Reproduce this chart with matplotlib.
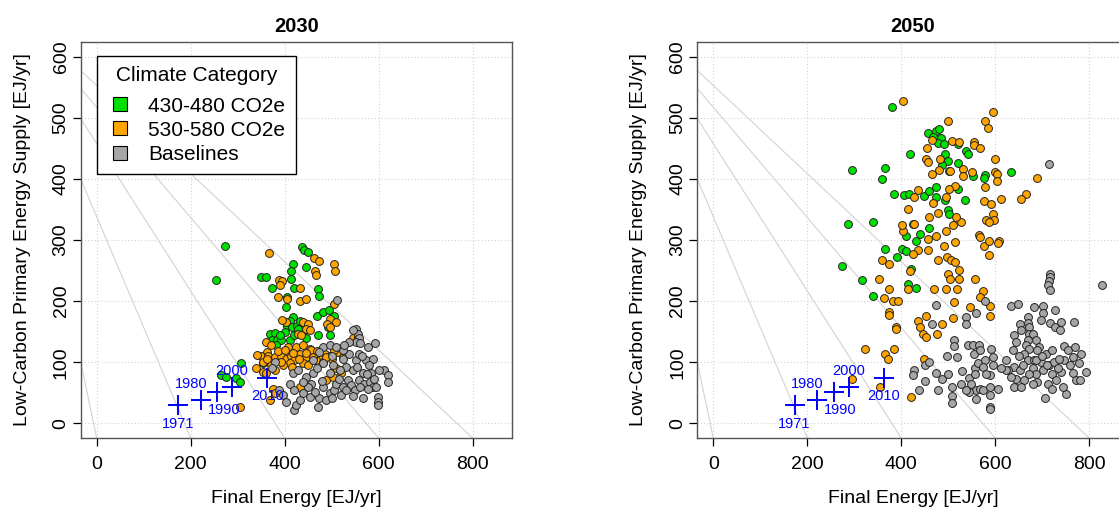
import matplotlib
matplotlib.use('Agg')
import matplotlib.pyplot as plt
from matplotlib.lines import Line2D

plt.rcParams['font.family'] = ['Liberation Sans', 'DejaVu Sans']

# --- 2030 panel: (final energy, low-carbon primary energy) in EJ/yr
g30_x = [274, 255, 437, 442, 449, 418, 414, 445, 350, 360, 413, 374, 421, 472, 474, 405, 404,
         469, 481, 494, 506, 418, 411, 405, 416, 426, 433, 439, 368, 379, 374, 384, 393, 382,
         472, 496, 492, 411, 446, 308, 264, 276, 297, 304, 354, 420, 428, 400, 390]
g30_y = [290, 234, 288, 284, 280, 261, 250, 256, 240, 240, 237, 221, 222, 220, 208, 206, 190,
         176, 182, 186, 176, 174, 168, 160, 158, 160, 168, 152, 147, 148, 136, 137, 137, 128,
         144, 144, 158, 136, 139, 98, 79, 76, 75, 68, 98, 145, 155, 150, 145]
o30_x = [366, 462, 473, 506, 508, 464, 467, 389, 395, 391, 433, 387, 405, 432, 445, 505, 404,
         395, 439, 450, 445, 428, 435, 453, 496, 510, 490, 497, 361, 372, 363, 425, 439, 453,
         350, 365, 379, 393, 404, 414, 421, 432, 446, 474, 485, 496, 513, 411, 439, 396, 340,
         354, 361, 375, 379, 368, 304, 433, 510, 520, 545, 556, 489, 503, 467, 457, 407, 481, 524,
         355, 370, 385, 400, 418, 445, 460, 470, 500, 505, 380, 415, 362, 430, 488, 450, 342, 392]
o30_y = [279, 271, 265, 261, 250, 250, 243, 235, 233, 227, 221, 207, 204, 201, 203, 195, 166,
         169, 166, 163, 155, 147, 144, 152, 171, 166, 162, 158, 133, 128, 117, 125, 128, 122,
         111, 110, 109, 111, 106, 111, 103, 114, 109, 111, 114, 111, 117, 98, 98, 95, 90,
         84, 82, 57, 49, 38, 27, 60, 90, 82, 139, 141, 71, 76, 103, 120, 125, 101, 109,
         100, 95, 118, 120, 115, 115, 108, 118, 105, 120, 88, 92, 105, 106, 108, 95, 112, 100]
b30_x = [511, 552, 556, 559, 552, 561, 593, 577, 481, 474, 496, 598, 598, 598, 612, 620, 620,
         421, 425, 432, 471, 389, 397, 404, 379, 374, 418, 428, 446, 457, 460, 481, 474, 489,
         496, 506, 510, 520, 524, 535, 542, 549, 559, 570, 581, 588, 584, 573, 588, 552, 531,
         524, 538, 524, 460, 481, 503, 517, 545, 439, 453, 496, 411, 566, 538, 545, 527, 510,
         559, 577, 595, 566, 450, 465, 480, 500, 515, 530, 545, 555, 565, 580, 500, 470, 440,
         420, 560, 590, 600, 575]
b30_y = [202, 155, 147, 139, 133, 131, 131, 125, 125, 117, 128, 43, 35, 30, 87, 79, 68,
         22, 30, 38, 27, 54, 46, 35, 100, 90, 82, 87, 76, 65, 82, 60, 41, 38,
         49, 54, 65, 46, 60, 71, 63, 54, 71, 65, 68, 60, 82, 103, 106, 103, 92,
         106, 114, 120, 103, 98, 95, 87, 87, 49, 43, 82, 65, 82, 133, 152, 128, 125,
         114, 57, 60, 41, 60, 52, 70, 42, 72, 55, 45, 92, 110, 95, 110, 90, 68,
         55, 60, 72, 88, 80]

# --- 2050 panel
g50_x = [380, 457, 473, 480, 467, 485, 478, 492, 520, 537, 542, 418, 494, 499, 487, 520, 501,
         296, 365, 360, 552, 579, 577, 634, 385, 407, 416, 448, 459, 474, 473, 494, 520, 535,
         499, 501, 287, 339, 425, 411, 431, 441, 459, 365, 401, 411, 390, 273, 317, 341, 420,
         414, 431]
g50_y = [518, 475, 478, 481, 468, 467, 458, 457, 457, 446, 440, 440, 440, 430, 422, 426, 413,
         414, 418, 400, 404, 407, 401, 411, 375, 374, 375, 372, 380, 387, 370, 365, 384, 365,
         349, 343, 326, 330, 327, 307, 299, 310, 320, 286, 286, 282, 272, 257, 235, 208, 253,
         228, 222]
o50_x = [404, 596, 499, 579, 585, 465, 508, 523, 556, 554, 568, 455, 453, 458, 483, 480, 465,
         504, 531, 550, 531, 600, 599, 603, 604, 689, 666, 656, 436, 428, 467, 496, 515, 502,
         577, 591, 613, 579, 414, 460, 479, 496, 511, 528, 516, 595, 581, 598, 586, 404, 402,
         427, 457, 474, 492, 514, 565, 568, 577, 586, 609, 607, 586, 360, 374, 353, 375, 363,
         383, 394, 374, 375, 388, 388, 324, 365, 372, 384, 354, 295, 421, 435, 458, 478, 497,
         506, 514, 523, 499, 503, 523, 557, 470, 496, 519, 574, 567, 513, 547, 590, 590, 510,
         487, 453, 436, 441, 446, 453, 476, 448, 425, 418, 414]
o50_y = [528, 510, 494, 494, 483, 463, 462, 460, 461, 456, 450, 450, 432, 427, 433, 414, 408,
         413, 416, 412, 405, 432, 411, 408, 397, 401, 375, 367, 382, 371, 360, 370, 389, 383,
         364, 359, 367, 386, 351, 337, 345, 315, 325, 329, 338, 343, 333, 332, 329, 315, 324,
         326, 302, 307, 291, 296, 308, 305, 291, 299, 299, 295, 276, 267, 261, 237, 220, 205,
         201, 201, 182, 177, 158, 154, 122, 113, 106, 121, 60, 72, 43, 284, 284, 268, 272,
         267, 264, 251, 245, 237, 237, 236, 220, 220, 220, 216, 207, 199, 190, 192, 176, 172,
         162, 175, 168, 158, 147, 141, 147, 106, 277, 249, 220]
b50_x = [715, 828, 717, 717, 715, 712, 717, 579, 634, 648, 683, 701, 727, 474, 538, 538, 559,
         465, 513, 513, 498, 518, 543, 552, 565, 592, 669, 669, 671, 673, 669, 666, 673, 662,
         669, 701, 697, 717, 728, 738, 740, 768, 641, 644, 637, 623, 641, 627, 644, 662, 680,
         687, 701, 715, 726, 697, 712, 705, 722, 740, 751, 765, 772, 780, 782, 779, 794, 765,
         747, 756, 428, 425, 450, 450, 438, 479, 474, 487, 508, 508, 508, 545, 549, 559, 567,
         574, 588, 589, 588, 588, 606, 544, 557, 564, 579, 574, 581, 595, 595, 556, 567, 557,
         683, 673, 652, 690, 722, 729, 744, 652, 655, 680, 687, 694, 708, 687, 623, 634, 747,
         733, 538, 528, 650, 660, 700, 710, 720, 735, 760, 770, 690, 640, 655, 680, 612, 530,
         560, 500, 460, 590]
b50_y = [424, 227, 245, 239, 233, 226, 219, 200, 192, 196, 191, 192, 186, 194, 174, 163, 180,
         163, 137, 126, 111, 109, 129, 128, 129, 122, 174, 164, 157, 147, 136, 128, 122, 114,
         103, 180, 169, 164, 158, 152, 166, 166, 144, 133, 120, 103, 92, 87, 73, 71, 90,
         81, 87, 95, 101, 101, 65, 42, 57, 84, 48, 82, 71, 71, 114, 98, 84, 109,
         126, 120, 87, 79, 95, 69, 54, 55, 82, 72, 60, 45, 34, 74, 65, 54, 57,
         54, 79, 46, 27, 23, 57, 52, 90, 98, 103, 92, 81, 95, 109, 114, 120, 81,
         103, 81, 87, 68, 81, 71, 60, 163, 152, 147, 136, 125, 114, 103, 87, 76, 103,
         90, 54, 65, 110, 95, 110, 95, 120, 105, 95, 125, 120, 60, 60, 65, 90, 85,
         40, 80, 100, 60]

# historical values (same in both panels)
hist_years = ['1971', '1980', '1990', '2000', '2010']
hist_fe = [173, 221, 256, 288, 363]
hist_lc = [30, 39, 52, 60, 75]
hist_lbl_off = [(0, -13.5), (-7, 11), (5, -13.5), (0, 11.5), (0, -13.5)]   # points

# grey guide rays: common origin, end on the lower frame edge
ray_origin = (-197, 695)
ray_end_x = [0, 200, 400, 600, 800]

panels = [
    ('2030', g30_x, g30_y, o30_x, o30_y, b30_x, b30_y),
    ('2050', g50_x, g50_y, o50_x, o50_y, b50_x, b50_y),
]

col_g = '#00E000'
col_o = '#FFA500'
col_b = '#A6A6A6'

fig = plt.figure(figsize=(11.19, 5.11), dpi=100)
lefts = [80.7 / 1119, 697.3 / 1119]
xlim = (-34, 884)
ylim = (-24, 624)

for i, (title, gx, gy, ox, oy, bx, by) in enumerate(panels):
    ax = fig.add_axes([lefts[i], 1 - 438 / 511, 431.3 / 1119, 396 / 511])
    ax.set_xlim(xlim)
    ax.set_ylim(ylim)
    ax.set_xticks([0, 200, 400, 600, 800])
    ax.set_yticks([0, 100, 200, 300, 400, 500, 600])
    for v in [0, 200, 400, 600, 800]:
        ax.axvline(v, color='#D3D3D3', lw=0.8, ls=(0, (1, 2)), zorder=0)
    for v in [0, 100, 200, 300, 400, 500, 600]:
        ax.axhline(v, color='#D3D3D3', lw=0.8, ls=(0, (1, 2)), zorder=0)
    for ex in ray_end_x:
        ax.plot([ray_origin[0], ex], [ray_origin[1], ylim[0]], color='#D3D3D3', lw=0.8, zorder=1)

    ax.scatter(gx, gy, s=32, c=col_g, edgecolors='#222222', linewidths=0.7, zorder=3)
    ax.scatter(ox, oy, s=32, c=col_o, edgecolors='#222222', linewidths=0.7, zorder=3)
    ax.scatter(bx, by, s=32, c=col_b, edgecolors='#222222', linewidths=0.7, zorder=3)

    ax.plot(hist_fe, hist_lc, ls='none', marker='+', color='blue', ms=15, mew=1.4, zorder=5)
    for yr, fx, fy, off in zip(hist_years, hist_fe, hist_lc, hist_lbl_off):
        ax.annotate(yr, (fx, fy), xytext=off, textcoords='offset points', ha='center',
                    va='center', color='blue', fontsize=10.5, zorder=6)

    ax.set_title(title, fontsize=14.5, fontweight='bold', pad=7)
    ax.set_xlabel('Final Energy [EJ/yr]', fontsize=14)
    ax.set_ylabel('Low-Carbon Primary Energy Supply [EJ/yr]', fontsize=14)
    ax.xaxis.set_label_coords(0.5, -0.152)
    ax.xaxis.label.set_va('center')
    ax.yaxis.set_label_coords(-0.136, 0.5)
    ax.yaxis.label.set_va('center')
    ax.tick_params(axis='both', labelsize=14, length=6, width=0.9, color='black')
    ax.tick_params(axis='x', pad=7)
    ax.tick_params(axis='y', pad=2)
    for lbl in ax.get_yticklabels():
        lbl.set_rotation(90)
        lbl.set_va('center')
    for sp in ax.spines.values():
        sp.set_color('#555555')
        sp.set_linewidth(1.0)

    if i == 0:
        handles = [Line2D([], [], ls='none', marker='s', ms=10, mfc=c, mec='black', mew=0.8)
                   for c in [col_g, col_o, col_b]]
        leg = ax.legend(handles, ['430-480 CO2e', '530-580 CO2e', 'Baselines'],
                        title='Climate Category', loc='upper left',
                        bbox_to_anchor=(0.0385, 0.9646), borderaxespad=0,
                        fontsize=15, title_fontsize=15, frameon=True, fancybox=False,
                        edgecolor='black', framealpha=1, handlelength=1.2,
                        handletextpad=0.75, borderpad=0.5, labelspacing=0.25)
        leg.get_frame().set_linewidth(1.0)
        leg._legend_box.sep = 8
        leg.set_zorder(10)

fig.savefig('out.png', dpi=100)
